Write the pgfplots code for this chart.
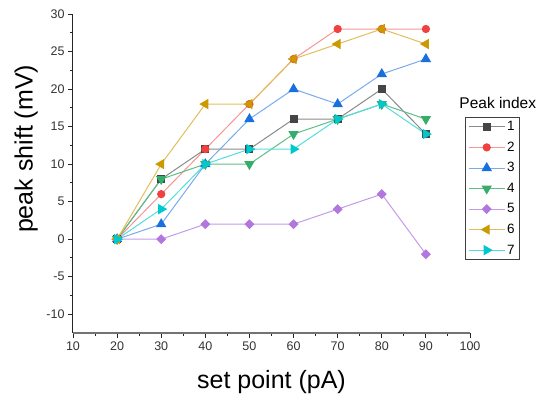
\documentclass[border=0pt]{standalone}
\usepackage{fontspec}
\setmainfont{Liberation Sans}
\usepackage{pgfplots}
\pgfplotsset{compat=1.18}
\definecolor{c1}{HTML}{454545}\definecolor{l1}{HTML}{8A8A8A}
\definecolor{c2}{HTML}{F14040}\definecolor{l2}{HTML}{F59595}
\definecolor{c3}{HTML}{1A6FDF}\definecolor{l3}{HTML}{78AAEE}
\definecolor{c4}{HTML}{37AD6B}\definecolor{l4}{HTML}{5DBE88}
\definecolor{c5}{HTML}{B177DE}\definecolor{l5}{HTML}{C59BE8}
\definecolor{c6}{HTML}{CC9900}\definecolor{l6}{HTML}{E2BE5A}
\definecolor{c7}{HTML}{00C8CC}\definecolor{l7}{HTML}{55DCDE}
\definecolor{axc}{HTML}{555555}
\begin{document}
\begin{tikzpicture}
\useasboundingbox (-73pt,-62pt) rectangle (466pt,333pt);
\begin{axis}[
  at={(0,0)}, anchor=south west,
  scale only axis, width=397pt, height=319pt,
  xmin=10, xmax=100, ymin=-12.5, ymax=30,
  clip=false,
  axis lines*=left,
  x axis line style={black!55, line width=1.6pt},
  y axis line style={black!85, line width=1pt},
  xtick={10,20,...,100}, ytick={-10,-5,...,30},
  minor x tick num=1, minor y tick num=1,
  tick align=outside,
  major tick length=5pt, minor tick length=3pt,
  tick style={black!85, line width=0.9pt},
  /pgf/number format/assume math mode=true,
  ticklabel style={font=\fontsize{12.5}{14}\selectfont, text=black!80},
  xlabel={set point (pA)}, ylabel={peak shift (mV)},
  label style={font=\fontsize{25}{28}\selectfont},
  xlabel style={at={(axis description cs:0.5,-0.154)}, anchor=center},
  ylabel style={at={(axis description cs:-0.118,0.577)}, anchor=center, rotate=0},
  every axis plot/.append style={line width=1pt},
  legend style={at={(axis description cs:0.987,0.677)}, anchor=north west,
    draw=black!75, line width=0.8pt, font=\fontsize{13.5}{15}\selectfont,
    row sep=5.7pt, inner sep=2pt, inner xsep=3pt},
  legend cell align=left,
  legend image code/.code={\draw[mark repeat=2,mark phase=2] plot coordinates {(0pt,0pt) (18pt,0pt) (36pt,0pt)};},
]
\addplot[l1, mark=square*, mark size=3.5pt, mark options={c1, fill=c1}] coordinates {(20,0)(30,8)(40,12)(50,12)(60,16)(70,16)(80,20)(90,14)};
\addlegendentry{1}
\addplot[l2, mark=*, mark size=3.6pt, mark options={c2, fill=c2}] coordinates {(20,0)(30,6)(40,12)(50,18)(60,24)(70,28)(80,28)(90,28)};
\addlegendentry{2}
\addplot[l3, mark=triangle*, mark size=5pt, mark options={c3, fill=c3}] coordinates {(20,0)(30,2)(40,10)(50,16)(60,20)(70,18)(80,22)(90,24)};
\addlegendentry{3}
\addplot[l4, mark=triangle*, mark size=5pt, mark options={c4, fill=c4, rotate=180}] coordinates {(20,0)(30,8)(40,10)(50,10)(60,14)(70,16)(80,18)(90,16)};
\addlegendentry{4}
\addplot[l5, mark=square*, mark size=3pt, mark options={c5, fill=c5, rotate=45}] coordinates {(20,0)(30,0)(40,2)(50,2)(60,2)(70,4)(80,6)(90,-2)};
\addlegendentry{5}
\addplot[l6, mark=triangle*, mark size=5pt, mark options={c6, fill=c6, rotate=90}] coordinates {(20,0)(30,10)(40,18)(50,18)(60,24)(70,26)(80,28)(90,26)};
\addlegendentry{6}
\addplot[l7, mark=triangle*, mark size=5pt, mark options={c7, fill=c7, rotate=-90}] coordinates {(20,0)(30,4)(40,10)(50,12)(60,12)(70,16)(80,18)(90,14)};
\addlegendentry{7}
\node[font=\fontsize{15.5}{17}\selectfont, anchor=center] at (axis description cs:1.070,0.722) {Peak index};
\end{axis}
\end{tikzpicture}
\end{document}
